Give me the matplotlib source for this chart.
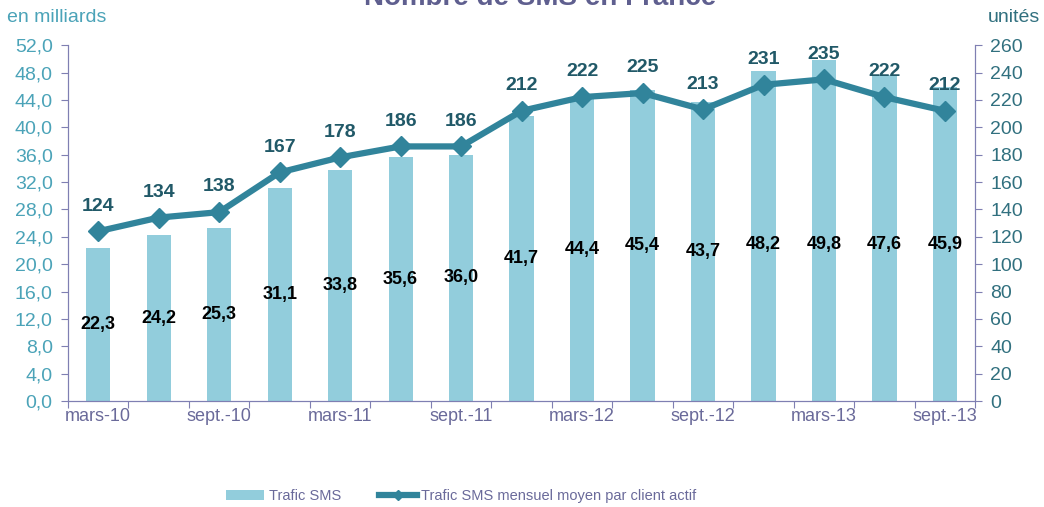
import numpy as np
import matplotlib
matplotlib.use('Agg')
import matplotlib.pyplot as plt
from matplotlib.ticker import FixedLocator, FuncFormatter

plt.rcParams['font.family'] = ['Liberation Sans', 'DejaVu Sans']

periodes = ['mars-10', 'juin-10', 'sept.-10', 'déc.-10',
            'mars-11', 'juin-11', 'sept.-11', 'déc.-11',
            'mars-12', 'juin-12', 'sept.-12', 'déc.-12',
            'mars-13', 'juin-13', 'sept.-13']
trafic = [22.3, 24.2, 25.3, 31.1, 33.8, 35.6, 36.0, 41.7, 44.4, 45.4, 43.7, 48.2, 49.8, 47.6, 45.9]
moyen = [124, 134, 138, 167, 178, 186, 186, 212, 222, 225, 213, 231, 235, 222, 212]

bar_col = '#92CDDC'
line_col = '#31849B'
axis_col = '#7F7FB2'
left_txt = '#4BA3B8'
right_txt = '#31707F'
x_txt = '#6A6A9A'

fig = plt.figure(figsize=(10.44, 5.07), dpi=100)
ax = fig.add_axes([0.0651, 0.209, 0.869, 0.702])
ax2 = ax.twinx()

x = np.arange(len(periodes))
bars = ax.bar(x, trafic, width=0.4, color=bar_col, label='Trafic SMS', zorder=1)
ln, = ax2.plot(x, moyen, color=line_col, lw=4.5, marker='D', ms=10,
               label='Trafic SMS mensuel moyen par client actif', zorder=3)

ax.set_xlim(-0.5, len(periodes) - 0.5)
ax.set_ylim(0, 52)
ax2.set_ylim(0, 260)
ax.set_yticks(np.arange(0, 53, 4))
ax2.set_yticks(np.arange(0, 261, 20))
ax.yaxis.set_major_formatter(FuncFormatter(lambda v, p: f'{v:.1f}'.replace('.', ',')))

# ticks at category boundaries, labels every other category
ax.xaxis.set_major_locator(FixedLocator(np.arange(-0.5, len(periodes), 1)))
ax.xaxis.set_major_formatter(FuncFormatter(lambda v, p: ''))
ax.xaxis.set_minor_locator(FixedLocator(x[::2]))
ax.set_xticklabels(periodes[::2], minor=True)
ax.tick_params(axis='x', which='minor', length=0, pad=5, labelsize=13, labelcolor=x_txt)
ax.tick_params(axis='x', which='major', length=5, color=axis_col, direction='out')

ax.tick_params(axis='y', length=5, color=axis_col, labelsize=14, labelcolor=left_txt, pad=6)
ax2.tick_params(axis='y', length=5, color=axis_col, labelsize=14, labelcolor=right_txt, pad=6)

for a in (ax, ax2):
    a.spines['top'].set_visible(False)
    for s in ('left', 'right', 'bottom'):
        a.spines[s].set_color(axis_col)
ax.set_zorder(ax2.get_zorder() - 1)
ax2.patch.set_visible(False)

for i, v in enumerate(trafic):
    ax.text(i, min(v / 2, 22.8), f'{v:.1f}'.replace('.', ','), ha='center', va='center',
            fontsize=13, fontweight='bold', color='black', zorder=5)
for i, v in enumerate(moyen):
    ax2.annotate(str(v), (i, v), xytext=(0, 12), textcoords='offset points',
                 ha='center', va='bottom', fontsize=14, fontweight='bold', color='#215968')

fig.text(0.517, 0.99, 'Nombre de SMS en France', ha='center', va='baseline',
         fontsize=20, fontweight='bold', color='#5F5F8F')
fig.text(0.007, 0.966, 'en milliards', ha='left', va='center', fontsize=14, color=left_txt)
fig.text(0.996, 0.966, 'unités', ha='right', va='center', fontsize=14, color=right_txt)

fig.legend(handles=[bars, ln], loc='center', bbox_to_anchor=(0.442, 0.022), ncol=2,
           frameon=False, fontsize=10.5, labelcolor=x_txt, handlelength=2.6,
           columnspacing=2.6, handletextpad=0.3, markerscale=0.5)

fig.savefig('out.png', dpi=100)
